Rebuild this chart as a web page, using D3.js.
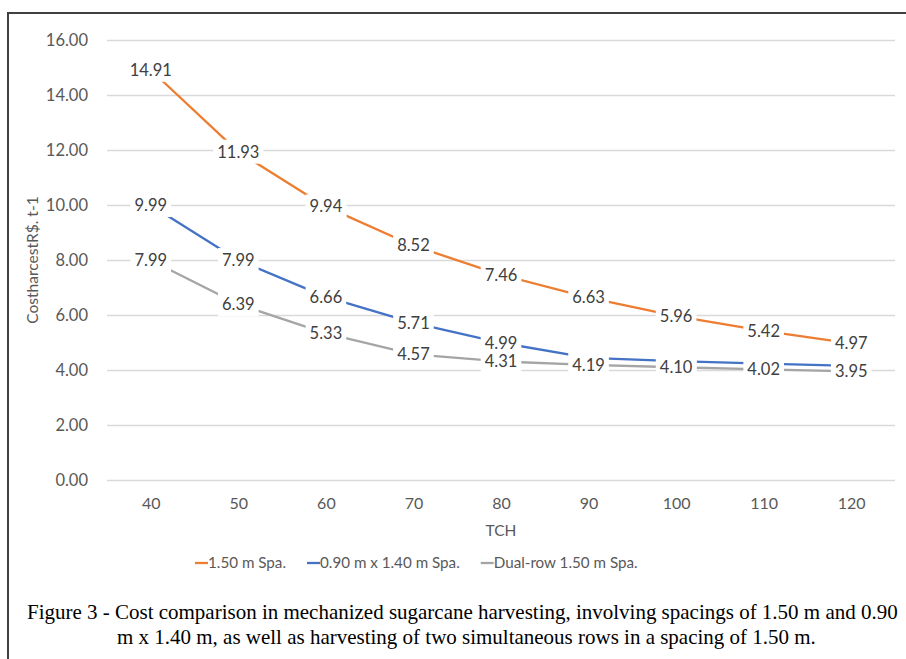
<!DOCTYPE html>
<html><head><meta charset="utf-8">
<script src="https://cdn.jsdelivr.net/npm/d3@7"></script>
<style>body{margin:0;background:#fff}svg{display:block}</style>
</head><body>
<svg id="c" width="906" height="659"></svg>
<script>
const categories = [40, 50, 60, 70, 80, 90, 100, 110, 120];
const seriesNames = ["1.50 m Spa.", "0.90 m x 1.40 m Spa.", "Dual-row 1.50 m Spa."];
const spa150 = [14.91, 11.93, 9.94, 8.52, 7.46, 6.63, 5.96, 5.42, 4.97];
const spa090x140 = [9.99, 7.99, 6.66, 5.71, 4.99, 4.44, 4.32, 4.23, 4.15];
const dualRow150 = [7.99, 6.39, 5.33, 4.57, 4.31, 4.19, 4.10, 4.02, 3.95];
const spa150Shown = [1, 1, 1, 1, 1, 1, 1, 1, 1];
const spa090x140Shown = [1, 1, 1, 1, 1, 0, 0, 0, 0];
const dualRow150Shown = [1, 1, 1, 1, 1, 1, 1, 1, 1];
const yTicks = [0, 2, 4, 6, 8, 10, 12, 14, 16];
const seriesColors = ["#ED7D31", "#4472C4", "#A5A5A5"];
const yTitle = "CostharcestR$. t-1";
const xTitle = "TCH";
const captionLines = [
  "Figure 3 - Cost comparison in mechanized sugarcane harvesting, involving spacings of 1.50 m and 0.90",
  "m x 1.40 m, as well as harvesting of two simultaneous rows in a spacing of 1.50 m."
];

const series = [
  {name: seriesNames[0], values: spa150, shown: spa150Shown, color: seriesColors[0]},
  {name: seriesNames[1], values: spa090x140, shown: spa090x140Shown, color: seriesColors[1]},
  {name: seriesNames[2], values: dualRow150, shown: dualRow150Shown, color: seriesColors[2]}
];

const svg = d3.select("#c");
const FONT = "Lato, 'Open Sans', sans-serif";
const axisColor = "#595959";

// frame
svg.append("rect").attr("x", 8).attr("y", 13).attr("width", 960).attr("height", 720)
  .attr("fill", "#fff").attr("stroke", "#404040").attr("stroke-width", 2);

const plot = {left: 107, right: 895, top: 40, bottom: 480};
const x = d3.scalePoint().domain(categories).range([plot.left, plot.right]).padding(0.5);
const y = d3.scaleLinear().domain([0, 16]).range([plot.bottom, plot.top]);

// gridlines
svg.append("g").attr("transform", `translate(${plot.left},0)`)
  .call(d3.axisLeft(y).tickValues(yTicks).tickSize(-(plot.right - plot.left)).tickFormat(""))
  .call(g => g.select(".domain").remove())
  .call(g => g.selectAll("line").attr("stroke", "#d9d9d9").attr("stroke-width", 1.3));

// y axis labels
svg.append("g").attr("transform", `translate(${plot.left},0)`)
  .call(d3.axisLeft(y).tickValues(yTicks).tickSize(0).tickPadding(19).tickFormat(d3.format(".2f")))
  .call(g => g.select(".domain").remove())
  .call(g => g.selectAll("text").attr("fill", axisColor).style("font-family", FONT).style("font-size", "16.5px"));

// x axis labels
svg.append("g").attr("transform", `translate(0,${plot.bottom})`)
  .call(d3.axisBottom(x).tickSize(0).tickPadding(18))
  .call(g => g.select(".domain").remove())
  .call(g => g.selectAll("text").attr("fill", axisColor).style("font-family", FONT).style("font-size", "16px"));

// axis titles
svg.append("text").attr("transform", `translate(38,${(plot.top + plot.bottom) / 2}) rotate(-90)`)
  .attr("text-anchor", "middle").attr("fill", axisColor)
  .style("font-family", FONT).style("font-size", "15.5px").text(yTitle);
svg.append("text").attr("x", (plot.left + plot.right) / 2).attr("y", 536)
  .attr("text-anchor", "middle").attr("fill", axisColor)
  .style("font-family", FONT).style("font-size", "15.5px").text(xTitle);

// lines
const line = d3.line().x((d, i) => x(categories[i])).y(d => y(d));
series.forEach(s => {
  svg.append("path").datum(s.values).attr("d", line)
    .attr("fill", "none").attr("stroke", s.color).attr("stroke-width", 2.3)
    .attr("stroke-linejoin", "round");
});

// data labels with white boxes
const labelG = svg.append("g");
series.forEach(s => {
  s.values.forEach((v, i) => {
    if (!s.shown[i]) return;
    const g = labelG.append("g").attr("transform", `translate(${x(categories[i])},${y(v)})`);
    const rect = g.append("rect").attr("fill", "#fff");
    const t = g.append("text").attr("text-anchor", "middle").attr("dy", "0.35em")
      .attr("fill", "#404040").style("font-family", FONT).style("font-size", "16.5px")
      .text(d3.format(".2f")(v));
    const bb = t.node().getBBox();
    rect.attr("x", bb.x - 4).attr("y", bb.y - 2).attr("width", bb.width + 8).attr("height", bb.height + 4);
  });
});

// legend
let lx = 195;
const ly = 563;
series.forEach(s => {
  svg.append("line").attr("x1", lx).attr("x2", lx + 13).attr("y1", ly).attr("y2", ly)
    .attr("stroke", s.color).attr("stroke-width", 2.3);
  const t = svg.append("text").attr("x", lx + 13).attr("y", ly).attr("dy", "0.35em")
    .attr("fill", axisColor).style("font-family", FONT).style("font-size", "15.2px").text(s.name);
  lx = lx + 13 + t.node().getComputedTextLength() + 21;
});

// caption
const capStarts = [27, 117];
const capBase = [619, 644];
const capTexts = captionLines.map((c, i) => svg.append("text").attr("x", capStarts[i]).attr("y", capBase[i])
  .attr("fill", "#000").style("font-family", "'Liberation Serif', 'Times New Roman', serif")
  .style("font-size", "20px").text(c));
const w0 = capTexts[0].node().getComputedTextLength();
const fs = 20 * 871 / w0;
capTexts.forEach(t => t.style("font-size", fs + "px"));
</script>
</body></html>
